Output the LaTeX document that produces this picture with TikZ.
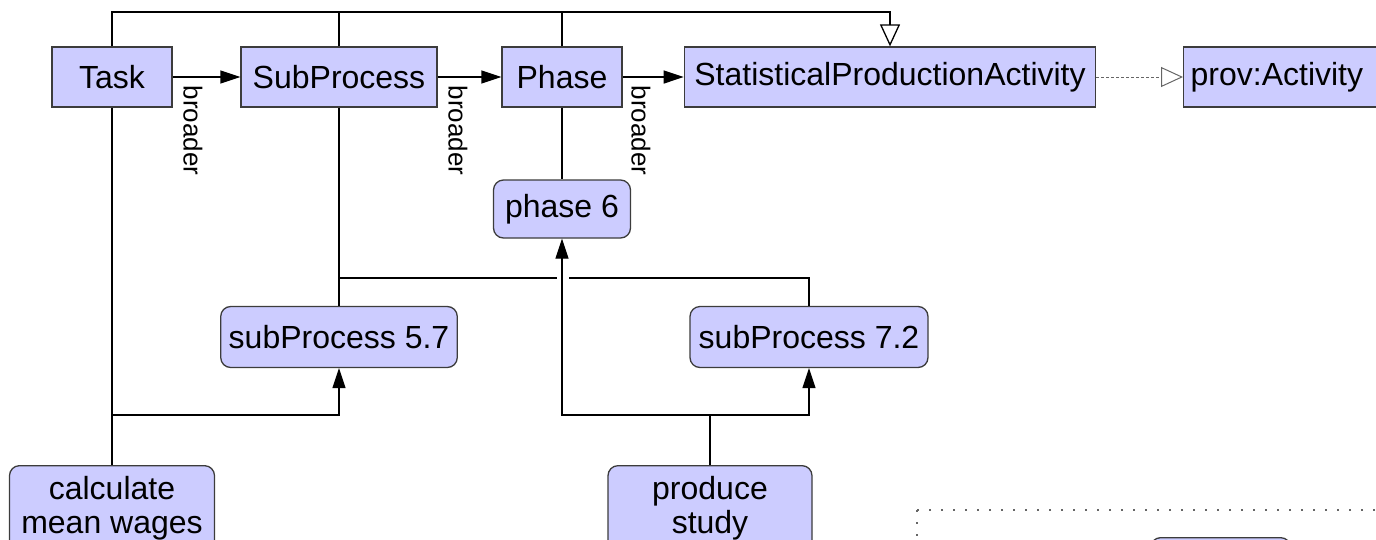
\documentclass[tikz,border=0pt]{standalone}
\usepackage{fontspec}
\setmainfont{Liberation Sans}
\usepackage{tikz}
\usepackage{xcolor}
\usetikzlibrary{arrows.meta}

\definecolor{boxfill}{RGB}{204,204,255}
\definecolor{boxline}{RGB}{60,60,60}

\begin{document}
\begin{tikzpicture}[
        x=1pt, y=-1pt,
        line width=1.3pt,
        font=\fontsize{32}{34}\selectfont,
        classbox/.style={draw=boxline, fill=boxfill, minimum height=60pt, inner xsep=10pt},
        instbox/.style={draw=boxline, fill=boxfill, rounded corners=10pt, minimum height=61pt, inner xsep=8pt},
        isa/.style={-{Triangle[length=20pt, width=13pt]}},
        subclass/.style={-{Triangle[open, length=22pt, width=20pt]}},
        broaderlabel/.style={rotate=-90, anchor=south west, inner sep=0pt, font=\fontsize{26}{28}\selectfont}
    ]
        \useasboundingbox (0,0) rectangle (1376,539);

        \node[classbox, minimum width=120pt] (task) at (112,77) {Task};
        \node[classbox, minimum width=196pt] (subprocess) at (339,77) {SubProcess};
        \node[classbox, minimum width=120pt] (phase) at (562,77) {Phase};
        \node[classbox, minimum width=410pt] (activity) at (890,77) {StatisticalProductionActivity};
        \node[classbox, anchor=west, inner xsep=7pt, text width=200pt, align=left] (provactivity) at (1183,77) {prov:Activity};

        \node[instbox, minimum width=137pt, minimum height=58pt] (phasesix) at (562,209) {phase 6};
        \node[instbox, minimum width=235pt] (subfive) at (339,337) {subProcess 5.7};
        \node[instbox, minimum width=238pt] (subseven) at (809,337) {subProcess 7.2};
        \node[instbox, anchor=north, minimum width=205pt, inner ysep=11pt, align=center] (calc) at (112,465) {calculate\\mean wages};
        \node[instbox, anchor=north, minimum width=204pt, inner ysep=11pt, align=center] (produce) at (710,465) {produce\\study};

        \coordinate (genbar) at (890,12);
        \draw[subclass] (task.north) |- (genbar) -- (activity.north);
        \draw (subprocess.north) -- (subprocess.north |- genbar);
        \draw (phase.north) -- (phase.north |- genbar);
        \draw[subclass, line width=1pt, draw=black!60, dash pattern=on 3pt off 2pt] (activity) -- (provactivity);

        \draw[isa] (task) -- (subprocess);
        \draw[isa] (subprocess) -- (phase);
        \draw[isa] (phase) -- (activity);
        \node[broaderlabel] (broadertask) at ([xshift=10pt, yshift=-8pt]task.east) {broader};
        \node[broaderlabel] (broadersub) at ([xshift=10pt, yshift=-8pt]subprocess.east) {broader};
        \node[broaderlabel] (broaderphase) at ([xshift=8pt, yshift=-8pt]phase.east) {broader};

        \draw (phase) -- (phasesix);

        \coordinate (spbranch) at (339,278);
        \coordinate (gapleft) at (557,278);
        \coordinate (gapright) at (569,278);
        \draw (subprocess) -- (subfive);
        \draw (spbranch) -- (gapleft);
        \draw (gapright) -| (subseven);

        \coordinate (taskjoin) at (112,415);
        \draw (task) -- (calc);
        \draw[isa] (taskjoin) -| (subfive);

        \coordinate (prodjoin) at (710,415);
        \draw (produce) -- (prodjoin);
        \draw[isa] (prodjoin) -| (phasesix);
        \draw[isa] (prodjoin) -| (subseven);

        \draw[draw=black!60, line width=1.6pt, dash pattern=on 1.6pt off 10.4pt] (917,510) rectangle (1420,620);
        \node[instbox, anchor=north west, minimum width=140pt] (lowerbox) at (1150,537) {};
    \end{tikzpicture}
\end{document}
